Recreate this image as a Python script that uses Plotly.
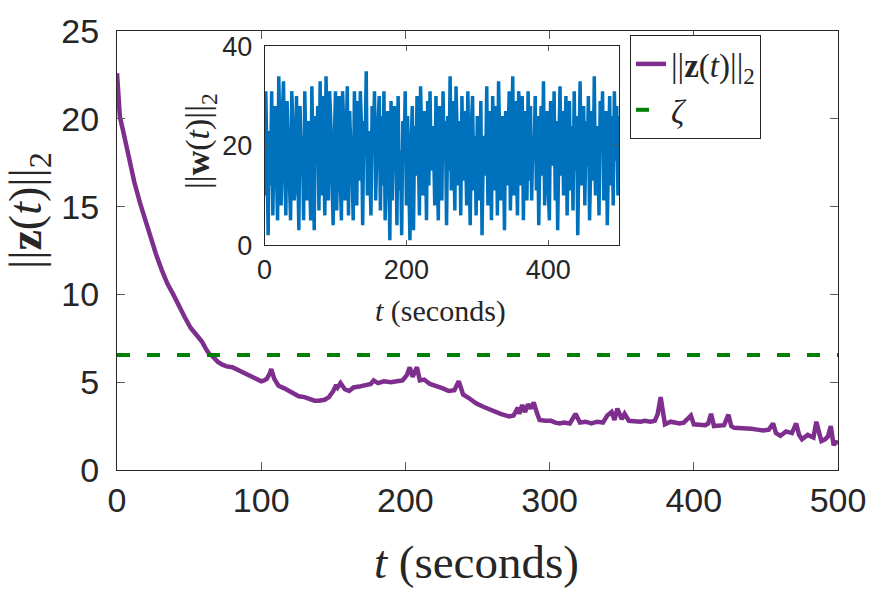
import plotly.graph_objects as go

# ---------------- data ----------------
t_z = [0, 1, 2, 4, 6, 9, 12, 16, 20, 23, 27, 31, 35, 39, 43, 47, 51, 55, 59, 62,
       64, 66, 68, 70, 73, 76, 80, 84, 88, 91, 94, 97, 100, 102, 104, 106, 107, 109, 112, 116,
       120, 123, 126, 130, 134, 137, 140, 144, 147, 150, 152, 153, 155, 158, 161, 164, 168, 172, 176, 178,
       181, 185, 190, 194, 198, 201, 203, 205, 208, 210, 213, 217, 221, 226, 230, 234, 237, 240, 244, 249,
       254, 258, 261, 266, 270, 272, 275, 278, 279, 281, 283, 285, 287, 289, 291, 293, 297, 301, 304, 307,
       310, 314, 318, 321, 325, 329, 333, 337, 340, 343, 345, 347, 350, 352, 355, 359, 363, 366, 370, 373,
       375, 377, 378, 380, 384, 387, 390, 393, 396, 398, 400, 404, 408, 410, 412, 414, 418, 421, 424, 426,
       428, 432, 436, 440, 444, 448, 452, 455, 457, 460, 464, 468, 471, 473, 475, 479, 483, 485, 487, 488.5,
       491, 493, 495, 497, 498, 500]
z_norm = [22.6, 21.3, 20.1, 19.4, 18.6, 17.4, 16.4, 15.2, 14.1, 13.3, 12.3, 11.4, 10.6, 10.0, 9.3, 8.7, 8.1, 7.7, 7.3, 6.85,
          6.6, 6.5, 6.3, 6.15, 6.0, 5.9, 5.85, 5.7, 5.55, 5.4, 5.3, 5.15, 5.05, 5.1, 5.2, 5.5, 5.75, 5.2, 4.8, 4.65,
          4.45, 4.3, 4.2, 4.15, 4.0, 3.95, 3.95, 4.0, 4.15, 4.5, 4.85, 4.7, 4.95, 4.6, 4.5, 4.7, 4.75, 4.85, 4.9, 5.1,
          4.95, 5.05, 5.0, 5.05, 5.1, 5.4, 5.85, 5.3, 5.85, 5.1, 5.15, 4.9, 4.8, 4.65, 4.5, 4.55, 5.05, 4.3, 4.1, 3.8,
          3.6, 3.45, 3.35, 3.2, 3.1, 3.05, 3.1, 3.55, 3.2, 3.7, 3.3, 3.75, 3.5, 3.85, 3.3, 2.85, 2.8, 2.8, 2.7, 2.65,
          2.7, 2.65, 3.2, 2.7, 2.75, 2.65, 2.75, 2.7, 3.1, 3.3, 2.85, 3.5, 2.9, 3.2, 2.8, 2.75, 2.75, 2.8, 2.75, 2.8,
          3.2, 4.15, 3.5, 2.6, 2.75, 2.7, 2.65, 2.7, 3.0, 3.1, 2.6, 2.6, 2.55, 2.65, 3.2, 2.5, 2.5, 2.55, 3.15, 2.5,
          2.4, 2.4, 2.35, 2.35, 2.3, 2.25, 2.3, 2.65, 2.1, 1.95, 2.2, 2.1, 2.65, 2.0, 1.75, 2.0, 1.85, 2.75, 2.1, 1.65,
          1.75, 1.9, 2.5, 1.4, 1.6, 1.55]
zeta = 6.55

w_norm = [10, 31, 18, 2, 23, 12, 31, 6, 22, 28, 15, 5, 34, 21, 8, 26, 33, 15, 6, 29,
          22, 12, 5, 31, 24, 9, 12, 30, 17, 3, 28, 17, 22, 5, 31, 20, 9, 25, 14, 5,
          32, 15, 3, 26, 19, 28, 7, 33, 10, 30, 21, 6, 34, 18, 9, 31, 25, 14, 4, 21,
          31, 7, 16, 30, 14, 5, 31, 24, 9, 20, 32, 6, 27, 19, 15, 5, 31, 22, 8, 29,
          13, 31, 24, 4, 25, 18, 35, 10, 23, 16, 6, 28, 21, 31, 9, 19, 26, 30, 7, 26,
          12, 31, 5, 20, 27, 17, 1, 29, 9, 24, 28, 22, 4, 30, 11, 19, 2, 25, 18, 31,
          8, 26, 14, 1, 20, 28, 3, 24, 14, 30, 21, 6, 32, 18, 10, 27, 22, 5, 29, 12,
          31, 15, 24, 20, 8, 30, 14, 5, 28, 22, 9, 31, 18, 25, 4, 26, 15, 34, 11, 29,
          20, 7, 32, 17, 12, 25, 6, 30, 13, 27, 21, 8, 31, 16, 4, 24, 30, 11, 22, 6,
          26, 19, 9, 29, 2, 18, 22, 14, 32, 8, 27, 19, 5, 30, 23, 11, 28, 6, 33, 16,
          9, 26, 21, 3, 27, 12, 24, 31, 7, 24, 34, 10, 29, 18, 6, 31, 25, 12, 30, 5,
          27, 20, 9, 31, 13, 28, 9, 22, 17, 30, 11, 26, 4, 19, 28, 14, 33, 8, 21, 27,
          12, 5, 29, 23, 16, 31, 9, 25, 3, 20, 32, 14, 27, 10, 23, 30, 6, 18, 29, 11,
          24, 7, 31, 15, 26, 2, 21, 33, 12, 19, 28, 8, 25, 16, 30, 5, 22, 27, 13, 34,
          10, 24, 18, 6, 29, 21, 31, 9, 16, 27, 4, 23, 30, 12, 26, 8, 31, 17, 28, 10,
          26]
t_w = [i * 500 / (len(w_norm) - 1) for i in range(len(w_norm))]

main_xticks = [0, 100, 200, 300, 400, 500]
main_yticks = [0, 5, 10, 15, 20, 25]
inset_xticks = [0, 200, 400]
inset_yticks = [0, 20, 40]

# ---------------- styles ----------------
PURPLE = "#7E2F8E"
GREEN = "#008000"
BLUE = "#0072BD"
AX = "#262626"
SANS = "Liberation Sans, Arial, sans-serif"
SERIF = "Liberation Serif, Times New Roman, serif"

Z_LABEL = "||<b>z</b>(<i>t</i>)||<sub>2</sub>"
W_LABEL = "||<b>w</b>(<i>t</i>)||<sub>2</sub>"
T_LABEL = "<i>t</i> (seconds)"

fig = go.Figure()
fig.add_trace(go.Scatter(x=t_z, y=z_norm, mode="lines",
                         line=dict(color=PURPLE, width=4.5),
                         name=Z_LABEL))
fig.add_trace(go.Scatter(x=[0, 500], y=[zeta, zeta], mode="lines",
                         line=dict(color=GREEN, width=4, dash="13px,17px"),
                         name="<i>ζ</i>"))
fig.add_trace(go.Scatter(x=t_w, y=w_norm, mode="lines",
                         line=dict(color=BLUE, width=3.5),
                         xaxis="x2", yaxis="y2", showlegend=False))


def axis(size, **kw):
    d = dict(showline=True, linecolor=AX, linewidth=1, mirror="ticks",
             ticks="inside", tickcolor="#5a5a5a", showgrid=False, zeroline=False,
             tickfont=dict(family=SANS, color=AX, size=size))
    d.update(kw)
    return d


fig.update_layout(
    width=878, height=590,
    margin=dict(l=117, r=33, t=15, b=120),
    paper_bgcolor="white", plot_bgcolor="white",
    xaxis=axis(34, range=[0, 500], tickvals=main_xticks, ticklen=8, ticklabelstandoff=0),
    yaxis=axis(34, range=[0, 25], tickvals=main_yticks, ticklen=8, ticklabelstandoff=10),
    xaxis2=axis(27, domain=[0.2047, 0.6964], anchor="y2", range=[0, 500],
                tickvals=inset_xticks, ticklen=5, ticklabelstandoff=0),
    yaxis2=axis(27, domain=[0.5121, 0.9648], anchor="x2", range=[0, 40],
                tickvals=inset_yticks, ticklen=5, ticklabelstandoff=6),
    legend=dict(x=0.7115, y=0.991, xanchor="left", yanchor="top",
                bordercolor=AX, borderwidth=1, bgcolor="white",
                font=dict(family=SERIF, size=33, color=AX),
                tracegroupgap=0),
    showlegend=True,
)

fig.add_annotation(text=T_LABEL, xref="paper", yref="paper",
                   x=0.4986, y=-0.209, xanchor="center", yanchor="middle",
                   showarrow=False, font=dict(family=SERIF, size=47, color=AX))
fig.add_annotation(text=Z_LABEL, xref="paper", yref="paper",
                   x=-0.122, y=0.59, xanchor="center", yanchor="middle", textangle=-90,
                   showarrow=False, font=dict(family=SERIF, size=46, color=AX))
fig.add_annotation(text=T_LABEL, xref="paper", yref="paper",
                   x=0.449, y=0.362, xanchor="center", yanchor="middle",
                   showarrow=False, font=dict(family=SERIF, size=30, color=AX))
fig.add_annotation(text=W_LABEL, xref="paper", yref="paper",
                   x=0.1154, y=0.75, xanchor="center", yanchor="middle", textangle=-90,
                   showarrow=False, font=dict(family=SERIF, size=34, color=AX))

fig.write_html("out.html")
